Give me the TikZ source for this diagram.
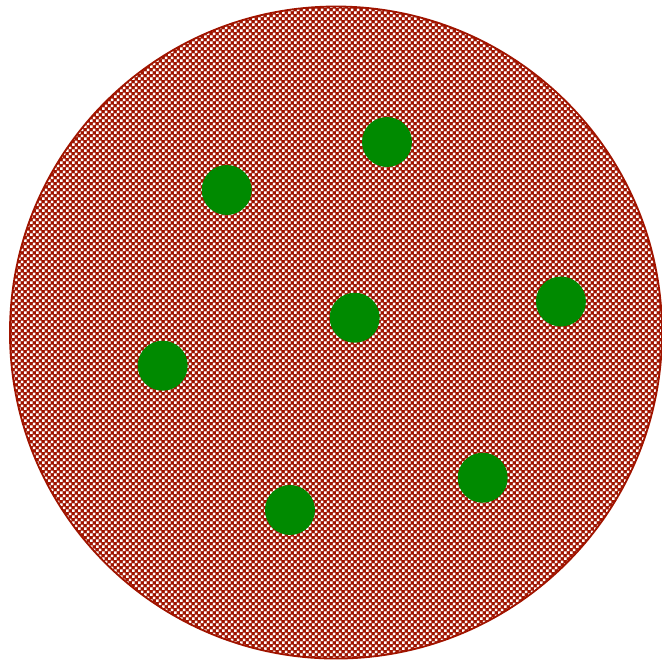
\documentclass[tikz,border=0pt]{standalone}
\usepackage{tikz}
\usepackage{xcolor}
\usetikzlibrary{patterns}
\definecolor{DishRed}{HTML}{A01400}
\definecolor{DishGreen}{HTML}{008A00}
\pgfdeclarepatternformonly{dish holes}{\pgfpointorigin}{\pgfqpoint{2.8pt}{2.8pt}}{\pgfqpoint{2.8pt}{2.8pt}}
{
  \pgfpathrectangle{\pgfqpoint{0pt}{0pt}}{\pgfqpoint{1.2pt}{1.2pt}}
  \pgfpathrectangle{\pgfqpoint{1.4pt}{1.4pt}}{\pgfqpoint{1.2pt}{1.2pt}}
  \pgfusepath{fill}
}

\begin{document}
\begin{tikzpicture}
  \useasboundingbox (-5.153,-5.04) rectangle (5.0,5.10);
  \fill[DishRed] (0,0) circle (5);
  \fill[pattern=dish holes,pattern color=white] (0,0) circle (5);
  \draw[DishRed,thick] (0,0) circle (5);
  \foreach \x/\y in {0.782/2.922,-1.676/2.186,0.287/0.227,3.45/0.475,-2.658/-0.509,2.25/-2.227,-0.706/-2.722} {
    \fill[DishGreen] (\x,\y) circle (0.383);
  }
\end{tikzpicture}
\end{document}
